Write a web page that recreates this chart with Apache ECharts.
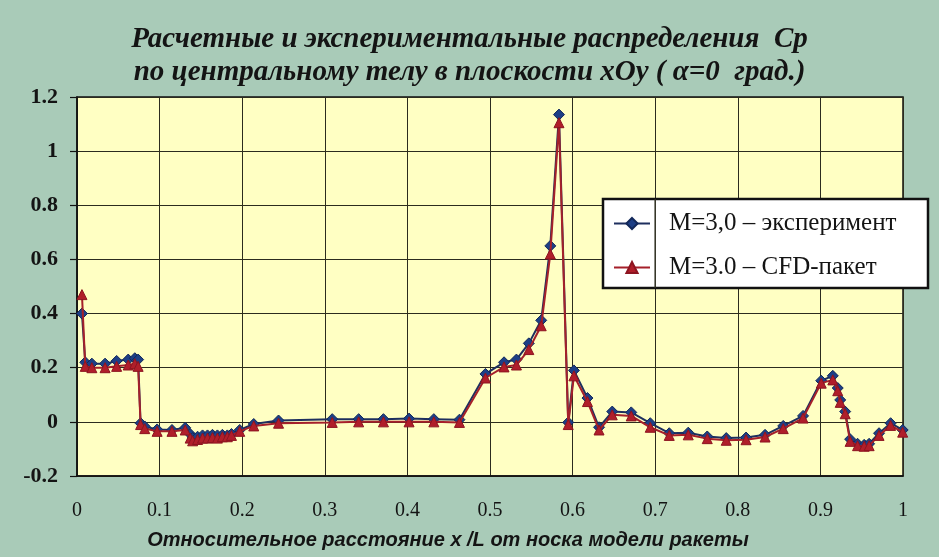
<!DOCTYPE html>
<html>
<head>
<meta charset="utf-8">
<script src="https://cdn.jsdelivr.net/npm/echarts@6/dist/echarts.min.js"></script>
<style>
  html, body { margin: 0; padding: 0; background: #a9cbb8; }
  #chart { width: 939px; height: 557px; }
</style>
</head>
<body>
<div id="chart"></div>
<script>
// Relative position along the body, x/L
const xPos = [
  0.006, 0.010, 0.018, 0.034, 0.048, 0.062, 0.070, 0.074,
  0.077, 0.082, 0.097, 0.115, 0.131, 0.137, 0.140, 0.146, 0.152, 0.158,
  0.164, 0.170, 0.176, 0.182, 0.187, 0.197, 0.214, 0.244,
  0.309, 0.341, 0.371, 0.402, 0.432, 0.463,
  0.4945, 0.517, 0.532, 0.547, 0.562, 0.573, 0.5835, 0.5947, 0.6016,
  0.618, 0.632, 0.648, 0.671, 0.694, 0.717, 0.740, 0.763, 0.786, 0.810,
  0.833, 0.855, 0.879, 0.901, 0.915, 0.921, 0.924, 0.930, 0.936, 0.945,
  0.953, 0.959, 0.971, 0.985, 0.9996
];
// Cp, wind-tunnel experiment, M=3.0
const cpExperiment = [
  0.40, 0.22, 0.215, 0.215, 0.225, 0.23, 0.235, 0.23,
  -0.005, -0.017, -0.028, -0.03, -0.022, -0.045, -0.06, -0.055, -0.05, -0.05,
  -0.048, -0.05, -0.048, -0.05, -0.045, -0.03, -0.008, 0.005,
  0.01, 0.01, 0.01, 0.012, 0.01, 0.008,
  0.177, 0.22, 0.23, 0.29, 0.375, 0.65, 1.135, -0.002, 0.19,
  0.088, -0.02, 0.038, 0.035, -0.005, -0.042, -0.04, -0.054, -0.06, -0.058,
  -0.048, -0.015, 0.022, 0.152, 0.17, 0.125, 0.081, 0.038, -0.064, -0.081,
  -0.085, -0.081, -0.042, -0.005, -0.03
];
// Cp, CFD package, M=3.0
const cpCfd = [
  0.47, 0.205, 0.20, 0.20, 0.205, 0.21, 0.215, 0.205,
  -0.01, -0.025, -0.035, -0.035, -0.03, -0.06, -0.07, -0.065, -0.06, -0.06,
  -0.058, -0.06, -0.055, -0.055, -0.05, -0.035, -0.015, -0.005,
  -0.002, 0.0, 0.0, 0.0, 0.0, -0.002,
  0.162, 0.203, 0.21, 0.267, 0.355, 0.62, 1.105, -0.01, 0.17,
  0.075, -0.03, 0.026, 0.022, -0.02, -0.05, -0.048, -0.062, -0.068, -0.066,
  -0.056, -0.025, 0.014, 0.143, 0.155, 0.115, 0.072, 0.03, -0.072, -0.088,
  -0.09, -0.088, -0.05, -0.013, -0.038
];
const seriesNames = ['M=3,0 \u2013 эксперимент', 'M=3.0 \u2013 CFD-пакет'];
const chartTitle = 'Расчетные и экспериментальные распределения  Ср\nпо центральному телу в плоскости xOy ( \u03b1=0  град.)';
const xTitle = 'Относительное расстояние x /L от носка модели ракеты';

const pairs = vals => xPos.map((x, i) => [x, vals[i]]);
const fmt = v => {
  const r = Math.round(v * 10) / 10;
  return Number.isInteger(r) ? String(r) : r.toFixed(1);
};

const chart = echarts.init(document.getElementById('chart'), null, { renderer: 'canvas' });

const serif = "'Liberation Serif', 'DejaVu Serif', serif";
const sans = "'Liberation Sans', Arial, sans-serif";

chart.setOption({
  backgroundColor: '#a9cbb8',
  animation: false,
  title: [
    {
      text: chartTitle,
      left: 'center',
      top: 18,
      textStyle: {
        fontFamily: serif, fontStyle: 'italic', fontWeight: 'bold',
        fontSize: 29, lineHeight: 33, color: '#141414'
      }
    },
    {
      text: xTitle,
      left: 443,
      top: 525,
      textAlign: 'center',
      textStyle: {
        fontFamily: sans, fontStyle: 'italic', fontWeight: 'bold',
        fontSize: 20, color: '#141414'
      }
    }
  ],
  grid: {
    left: 77, right: 36, top: 97, bottom: 81,
    show: true,
    backgroundColor: '#ffffc3',
    borderColor: '#111',
    borderWidth: 1.5
  },
  xAxis: {
    type: 'value', min: 0, max: 1, interval: 0.1,
    axisLine: { show: true, onZero: false, lineStyle: { color: '#111', width: 1.5 } },
    axisTick: { show: false },
    axisLabel: {
      formatter: fmt, margin: 25,
      fontFamily: serif, fontSize: 20, color: '#141414'
    },
    splitLine: { show: true, lineStyle: { color: '#2c2c1e', width: 1 } }
  },
  yAxis: {
    type: 'value', min: -0.2, max: 1.2, interval: 0.2,
    axisLine: { show: true, lineStyle: { color: '#111', width: 1.5 } },
    axisTick: { show: true, length: 7, lineStyle: { color: '#111', width: 1.2 } },
    axisLabel: {
      formatter: fmt, margin: 19,
      fontFamily: serif, fontWeight: 'bold', fontSize: 22, color: '#141414'
    },
    splitLine: { show: true, lineStyle: { color: '#2c2c1e', width: 1 } }
  },
  legend: {
    orient: 'vertical',
    left: 613, top: 211,
    padding: 0,
    itemWidth: 36, itemHeight: 14, itemGap: 19,
    z: 6,
    textStyle: {
      fontFamily: serif, fontSize: 25, color: '#141414',
      padding: [0, 0, 0, 14]
    },
    data: seriesNames
  },
  series: [
    {
      name: seriesNames[0],
      type: 'line',
      data: pairs(cpExperiment),
      symbol: 'diamond', symbolSize: 11,
      lineStyle: { color: '#1e2f5e', width: 2 },
      itemStyle: { color: '#1d3f86', borderColor: '#12285a', borderWidth: 1 },
      z: 3
    },
    {
      name: seriesNames[1],
      type: 'line',
      data: pairs(cpCfd),
      symbol: 'triangle', symbolSize: 10,
      lineStyle: { color: '#a5202a', width: 2 },
      itemStyle: { color: '#b01e2a', borderColor: '#8c1420', borderWidth: 1 },
      z: 4
    }
  ]
});

// Legend frame with the x=0.7 grid line running through it
const divX = chart.convertToPixel({ xAxisIndex: 0 }, 0.7);
chart.setOption({
  graphic: [
    {
      type: 'rect', z: 5,
      shape: { x: 603, y: 199, width: 325, height: 89 },
      style: { fill: '#ffffff', stroke: '#111', lineWidth: 2.5 }
    },
    {
      type: 'line', z: 5,
      shape: { x1: divX, y1: 199, x2: divX, y2: 288 },
      style: { stroke: '#2c2c1e', lineWidth: 1.5 }
    }
  ]
});
</script>
</body>
</html>
